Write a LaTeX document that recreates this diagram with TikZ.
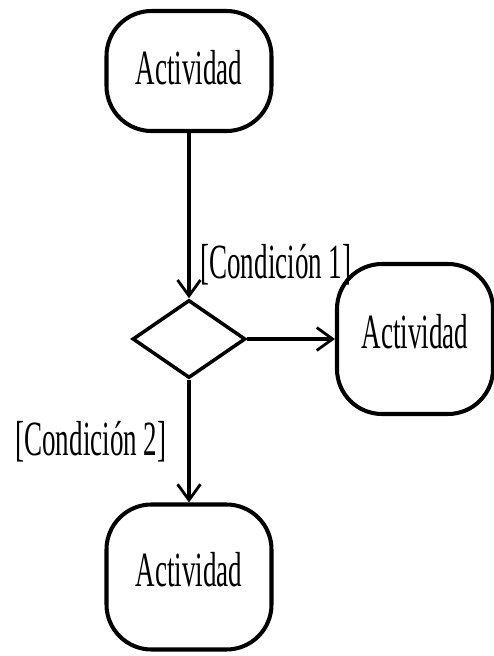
\documentclass[tikz,border=0pt]{standalone}
\usepackage{fontspec}
\setmainfont{Liberation Serif}[FakeStretch=0.55]
\usepackage{tikz}
\usetikzlibrary{shapes.geometric,arrows.meta}

\begin{document}
\begin{tikzpicture}[
    actividad/.style={draw, line width=2.3pt, rounded corners=0.9cm, inner sep=0pt, text depth=0.3cm, font=\fontsize{28}{30}\selectfont},
    decision/.style={draw, diamond, line width=2pt, inner sep=0pt, minimum width=2.26cm, minimum height=1.56cm},
    flujo/.style={line width=1.8pt, -{Straight Barb[length=9pt, width=13pt, line width=1.6pt]}},
    guarda/.style={anchor=west, inner sep=0pt, font=\fontsize{28}{30}\selectfont}]
    \useasboundingbox (0,0) rectangle (9.88,13.12);

    % Activities
    \node[actividad, minimum width=3.3cm, minimum height=2.4cm, text depth=0.16cm] (act1) at (3.78,11.7) {Actividad};
    \node[actividad, minimum width=3.12cm, minimum height=3.0cm] (act2) at (8.3,6.34) {Actividad};
    \node[actividad, minimum width=3.3cm, minimum height=2.9cm] (act3) at (3.78,1.58) {Actividad};

    % Decision
    \node[decision] (dec) at (3.78,6.34) {};

    % Guards
    \node[guarda] (cond1) at (4.0,7.82) {[Condición 1]};
    \node[guarda] (cond2) at (0.3,4.28) {[Condición 2]};

    % Arrows
    \draw[flujo] (act1) -- (dec);
    \draw[flujo] (dec) -- (act2);
    \draw[flujo] (dec) -- (act3);
\end{tikzpicture}
\end{document}
